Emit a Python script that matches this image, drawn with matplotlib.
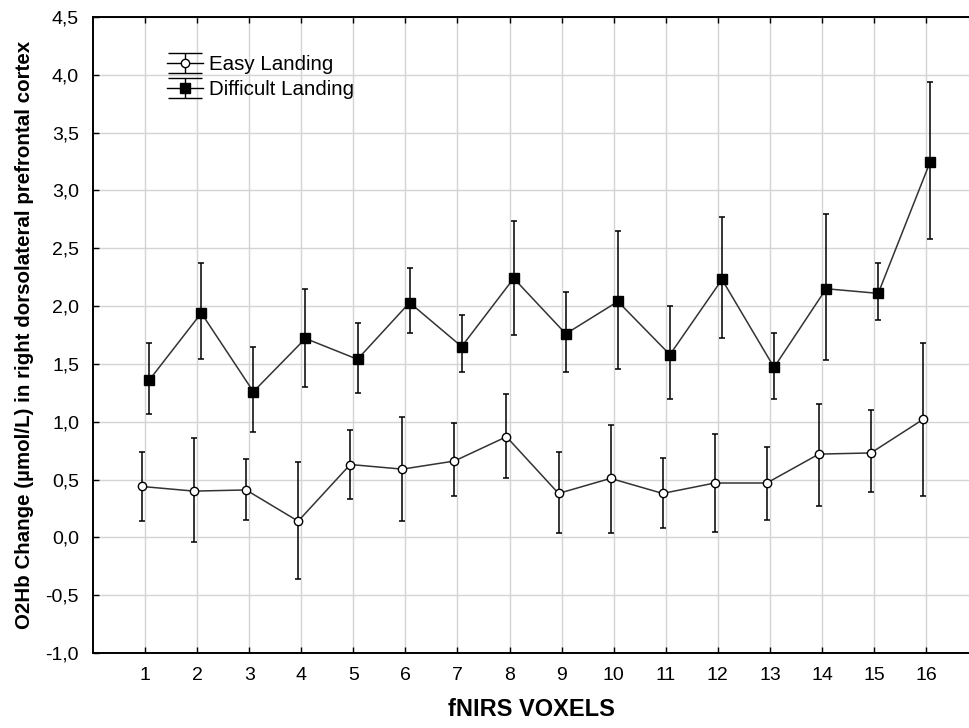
"""O2Hb change per fNIRS voxel, easy vs difficult landing (mean +/- CI)."""
import matplotlib
matplotlib.use("Agg")
import matplotlib.pyplot as plt  # noqa: E402
import numpy as np  # noqa: E402
from matplotlib.ticker import FuncFormatter  # noqa: E402

plt.rcParams["font.family"] = ["Liberation Sans", "DejaVu Sans"]

voxels = np.arange(1, 17)

easy_mean = [0.44, 0.40, 0.41, 0.14, 0.63, 0.59, 0.66, 0.87, 0.38, 0.51, 0.38, 0.47, 0.47, 0.72, 0.73, 1.02]
easy_low = [0.14, -0.04, 0.15, -0.36, 0.33, 0.14, 0.36, 0.51, 0.04, 0.04, 0.08, 0.05, 0.15, 0.27, 0.39, 0.36]
easy_high = [0.74, 0.86, 0.68, 0.65, 0.93, 1.04, 0.99, 1.24, 0.74, 0.97, 0.69, 0.89, 0.78, 1.15, 1.10, 1.68]

diff_mean = [1.36, 1.94, 1.26, 1.72, 1.54, 2.03, 1.65, 2.24, 1.76, 2.04, 1.58, 2.23, 1.47, 2.15, 2.11, 3.25]
diff_low = [1.07, 1.54, 0.91, 1.30, 1.25, 1.77, 1.43, 1.75, 1.43, 1.46, 1.20, 1.72, 1.20, 1.53, 1.88, 2.58]
diff_high = [1.68, 2.37, 1.65, 2.15, 1.85, 2.33, 1.92, 2.74, 2.12, 2.65, 2.00, 2.77, 1.77, 2.80, 2.37, 3.94]

W, H = 969, 728
fig = plt.figure(figsize=(W / 100, H / 100), dpi=100)
ax = fig.add_axes([93 / W, 1 - 653 / H, 1 - 93 / W, (653 - 17) / H])


def plot_series(mean, low, high, dx, marker, face, ms):
    mean = np.asarray(mean)
    yerr = [mean - np.asarray(low), np.asarray(high) - mean]
    ax.plot(voxels + dx, mean, color="#333333", lw=1.1, zorder=2)
    ax.errorbar(voxels + dx, mean, yerr=yerr, fmt="none", ecolor="black",
                elinewidth=1.1, capsize=2.2, capthick=1.1, zorder=3)
    ax.plot(voxels + dx, mean, ls="none", marker=marker, ms=ms, mfc=face,
            mec="black", mew=1.0, zorder=4)


plot_series(easy_mean, easy_low, easy_high, -0.06, "o", "white", 6)
plot_series(diff_mean, diff_low, diff_high, 0.08, "s", "black", 6.5)

# dummy handles for legend (wide caps like the original)
h_easy = ax.errorbar([np.nan], [np.nan], yerr=[[np.nan], [np.nan]], color="black",
                     marker="o", mfc="white", mec="black", ms=6, lw=1.0,
                     elinewidth=1.0, capsize=12, label="Easy Landing")
h_diff = ax.errorbar([np.nan], [np.nan], yerr=[[np.nan], [np.nan]], color="black",
                     marker="s", mfc="black", mec="black", ms=6.5, lw=1.0,
                     elinewidth=1.0, capsize=12, label="Difficult Landing")
fig.legend(handles=[h_easy, h_diff], loc="upper left",
           bbox_to_anchor=(167 / W, 1 - 55 / H), frameon=False, fontsize=14.8,
           borderpad=0, borderaxespad=0, labelspacing=0.3, handletextpad=0.3,
           handlelength=1.75)

ax.set_xlim(0, (969 - 93) / 52.07)
ax.set_ylim(-1.0, 4.5)
ax.set_xticks(voxels)
ax.set_yticks(np.arange(-1.0, 4.51, 0.5))
ax.yaxis.set_major_formatter(FuncFormatter(lambda v, _: f"{v:.1f}".replace(".", ",")))
ax.tick_params(direction="in", length=4, width=1, top=True, right=False,
               labelsize=14, pad=10, colors="black")
ax.tick_params(axis="y", pad=10)
ax.grid(True, color="#d4d4d4", lw=1.0, zorder=0)
ax.set_axisbelow(True)
for s in ["left", "bottom", "top"]:
    ax.spines[s].set_linewidth(1.4)
ax.spines["right"].set_visible(False)

ax.set_xlabel("fNIRS VOXELS", fontsize=17, fontweight="bold", labelpad=10)
ax.set_ylabel("O2Hb Change (µmol/L) in right dorsolateral prefrontal cortex",
              fontsize=14.8, fontweight="bold", labelpad=8)

fig.savefig("out.png", dpi=100)
